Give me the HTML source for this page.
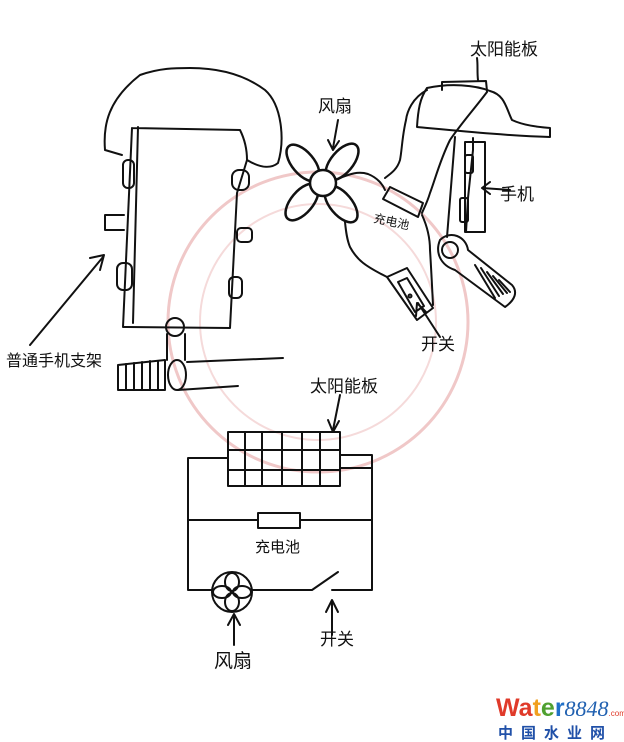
<!DOCTYPE html>
<html><head><meta charset="utf-8"><style>
html,body{margin:0;padding:0;background:#fff;}
svg{display:block;}
text{font-family:"Liberation Sans","Noto Sans CJK SC",sans-serif;fill:#111;}
</style></head><body>
<svg width="624" height="742" viewBox="0 0 624 742" xmlns="http://www.w3.org/2000/svg">
<rect width="624" height="742" fill="#fff"/>
<circle cx="318" cy="322" r="150" fill="none" stroke="#f0c8c8" stroke-width="3"/>
<circle cx="318" cy="322" r="118" fill="none" stroke="#f5dada" stroke-width="2"/>
<g fill="none" stroke="#111" stroke-width="2" stroke-linecap="round" stroke-linejoin="round">
<path d="M122 155 L105 150 C103 125 108 100 140 75 C160 68 175 68 190 68 C220 68 245 75 265 90 C282 105 285 140 278 163 C272 168 262 169 247 160"/>
<path d="M132 128 L240 130 C245 140 247 150 247 160 L237 193 L230 328 L123 327 L132 128"/>
<path d="M138 127 L133 323"/>
<rect x="123" y="160" width="11" height="28" rx="5"/>
<rect x="117" y="263" width="15" height="27" rx="6"/>
<rect x="232" y="170" width="17" height="20" rx="7"/>
<rect x="237" y="228" width="15" height="14" rx="4"/>
<rect x="229" y="277" width="13" height="21" rx="5"/>
<path d="M105 215 L105 230 M105 215 L124 215 M105 230 L124 230"/>
<circle cx="175" cy="327" r="9"/>
<path d="M167 334 L167 360 M185 334 L185 360"/>
<path d="M118 365 L165 360 L165 390 L118 390 Z"/>
<path d="M126 364 v26 M134 363 v27 M142 362 v28 M150 361 v29 M158 361 v29"/>
<ellipse cx="177" cy="375" rx="9" ry="15"/>
<path d="M187 362 L283 358 M178 390 L238 386"/>
<path d="M30 345 L103 257 M90 258 L104 255 L100 270"/>
<ellipse cx="303" cy="163" rx="11" ry="22" transform="rotate(-40 303 163)" stroke-width="2.5"/>
<ellipse cx="342" cy="162" rx="11" ry="22" transform="rotate(40 342 162)" stroke-width="2.5"/>
<ellipse cx="302" cy="202" rx="11" ry="22" transform="rotate(40 302 202)" stroke-width="2.5"/>
<ellipse cx="341" cy="204" rx="11" ry="22" transform="rotate(-40 341 204)" stroke-width="2.5"/>
<circle cx="323" cy="183" r="13" fill="#fff" stroke-width="2.5"/>
<path d="M338 120 L333 148 M328 140 L333 150 L339 141"/>
<path d="M442 90 L442 82 L486 81 L487 91"/>
<path d="M427 88 C450 83 475 85 490 91 C505 95 506 108 512 120 C525 126 540 127 550 128 L550 137 C510 136 460 131 417 127 C418 110 420 98 427 88 Z"/>
<path d="M427 90 C412 98 407 112 406 120 C402 137 402 150 400 160 C397 170 390 174 385 178"/>
<path d="M487 92 C475 108 460 125 450 140 C440 160 435 180 430 193 C427 203 424 208 422 213"/>
<path d="M340 178 C350 174 358 171 368 174 C378 178 383 185 385 190"/>
<path d="M345 222 C346 232 347 240 350 247 C357 260 365 266 387 277"/>
<path d="M422 215 C428 228 430 240 430 250 C431 265 432 285 433 305"/>
<path d="M390 187 L423 203 L418 217 L383 199 Z"/>
<path d="M465 142 L485 142 L485 232 L465 232 Z"/>
<path d="M473 138 L473 150 L468 198 L466 232"/>
<rect x="465" y="155" width="8" height="18" rx="2"/>
<rect x="460" y="198" width="8" height="24" rx="2"/>
<path d="M455 137 L447 237"/>
<path d="M510 190 L482 188 M490 182 L482 188 L490 194"/>
<path d="M387 277 L407 268 L433 308 L417 320 Z"/>
<path d="M398 282 L407 278 L424 306 L415 312 Z"/>
<circle cx="410" cy="296" r="1.5"/>
<path d="M440 240 C450 230 466 236 468 250 L512 285 C518 292 515 300 505 307 L455 270 C440 265 435 252 440 240 Z"/>
<circle cx="450" cy="250" r="8"/>
<path d="M475 265 L495 298 M481 268 L499 296 M487 272 L503 294 M493 276 L507 293 M499 280 L510 292"/>
<path d="M440 337 L418 303 M416 316 L417 303 L426 312"/>
<path d="M477 58 C478 65 477 72 478 80"/>
<path d="M228 458 L188 458 L188 590 L212 590 M252 590 L312 590 L338 572 M332 590 L372 590 L372 455 L340 455"/>
<path d="M188 520 L258 520 M300 520 L372 520"/>
<rect x="258" y="513" width="42" height="15"/>
<rect x="228" y="432" width="112" height="54"/>
<path d="M228 450 H340 M228 470 H340 M245 432 V486 M262 432 V486 M282 432 V486 M302 432 V486 M320 432 V486"/>
<path d="M340 468 L372 468"/>
<circle cx="232" cy="592" r="20"/>
<ellipse cx="232" cy="582" rx="7" ry="9"/><ellipse cx="232" cy="602" rx="7" ry="9"/>
<ellipse cx="222" cy="592" rx="9" ry="6"/><ellipse cx="242" cy="592" rx="9" ry="6"/>
<path d="M234 645 L234 615 M228 625 L234 614 L240 625"/>
<path d="M332 635 L332 602 M326 612 L332 600 L338 612"/>
<path d="M340 395 L333 430 M328 420 L333 432 L339 421"/>
</g>
<g font-size="17">
<text x="318" y="112">风扇</text>
<text x="470" y="55">太阳能板</text>
<text x="500" y="200">手机</text>
<text x="421" y="350">开关</text>
<text x="6" y="366" font-size="16">普通手机支架</text>
<text x="310" y="392">太阳能板</text>
<text x="255" y="552" font-size="15">充电池</text>
<text x="214" y="667" font-size="19">风扇</text>
<text x="320" y="645" font-size="17">开关</text>
<text x="373" y="222" font-size="12" transform="rotate(12 373 222)">充电池</text>
</g>
<text x="496" y="716" font-size="25" font-weight="bold"><tspan style="fill:#e03a2a">Wa</tspan><tspan style="fill:#f0a020">t</tspan><tspan style="fill:#50a030">e</tspan><tspan style="fill:#2070c8">r</tspan><tspan font-family="Liberation Serif" font-style="italic" font-weight="normal" font-size="22" style="fill:#2060b0">8848</tspan><tspan font-size="8" font-weight="normal" style="fill:#e03a2a">.com</tspan></text>
<text x="498" y="738" font-size="15" font-weight="bold" style="fill:#2050a8;letter-spacing:8px">中国水业网</text>
</svg>
</body></html>
